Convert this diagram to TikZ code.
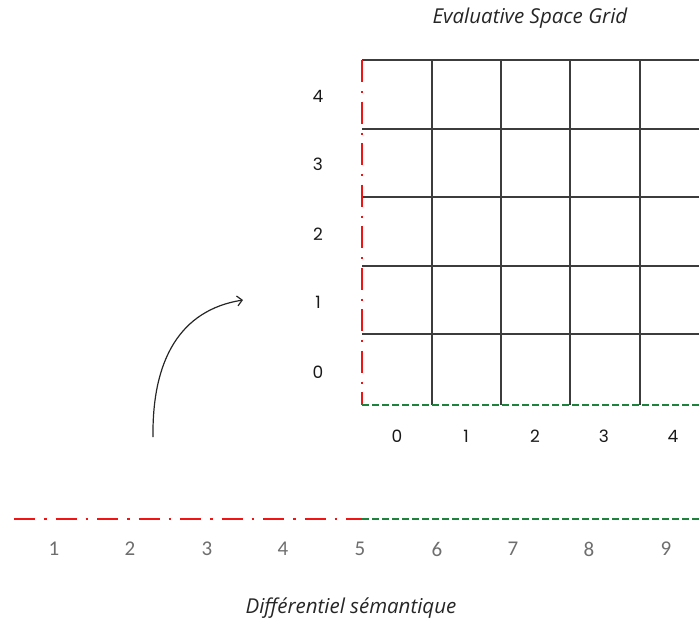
\documentclass[tikz,border=0pt]{standalone}
\usepackage{fontspec}
\usetikzlibrary{arrows.meta}
\setmainfont{Open Sans}
\newfontfamily\numfont{Poppins}
\newfontfamily\axfont{Carlito}
\definecolor{redl}{RGB}{240,20,20}
\definecolor{greenl}{RGB}{30,130,60}
\definecolor{gridc}{RGB}{60,60,60}
\definecolor{grayt}{RGB}{110,110,110}
\begin{document}
\begin{tikzpicture}[x=1pt,y=-1pt,
  gridline/.style={draw=gridc,line width=1.1pt},
  reddash/.style={draw=redl,line width=2pt,dash pattern=on 22pt off 9pt on 2pt off 8.5pt},
  reddashb/.style={draw=redl,line width=2.6pt,dash pattern=on 21pt off 9pt on 2.5pt off 9pt},
  greendash/.style={draw=greenl,line width=2pt,dash pattern=on 6.5pt off 3.5pt},
  gnum/.style={font=\numfont\fontsize{17}{20}\selectfont,text=black!90,inner sep=0pt},
  anum/.style={font=\axfont\fontsize{21}{24}\selectfont,text=grayt,inner sep=0pt},
  ttl/.style={font=\itshape\fontsize{20.5}{24}\selectfont,text=black!85,inner sep=0pt}]
\useasboundingbox (0,0) rectangle (699,625);
\begin{scope}
\clip (0,0) rectangle (699,625);
% horizontal grid lines
\foreach \y in {60,129,197,266,334}
  \draw[gridline] (362,\y) -- (710,\y);
% vertical grid lines
\foreach \x in {432,501,570,640}
  \draw[gridline] (\x,60) -- (\x,405);
% axes
\coordinate (O) at (362,405);
\coordinate (T) at (362,60);
\coordinate (R) at (710,405);
\draw[reddash] (T) -- (O);
\draw[greendash] (O) -- (R);
% bottom line
\coordinate (L0) at (14,519);
\coordinate (L5) at (362,519);
\coordinate (L9) at (710,519);
\draw[reddashb] (L0) -- (L5);
\draw[greendash] (L5) -- (L9);
\end{scope}
% grid labels
\foreach \v/\y in {4/96,3/164,2/234,1/302,0/372}
  \node[gnum] (y\v) at (318,\y) {\v};
\foreach \v/\x in {0/397,1/466,2/535,3/604,4/673}
  \node[gnum] (x\v) at (\x,436) {\v};
% bottom labels
\foreach \v/\x in {1/54,2/130,3/207,4/283,5/360,6/437,7/513,8/589,9/666}
  \node[anum] (b\v) at (\x,549) {\v};
% titles
\node[ttl] (title) at (530,18) {Evaluative Space Grid};
\node[ttl] (sub) at (351,608) {Différentiel sémantique};
% curved arrow
\coordinate (as) at (153,437);
\coordinate (ae) at (243,300);
\draw[line width=1.2pt,black!85,-{Straight Barb[length=5pt,width=10pt]}] (as) .. controls (152,360) and (180,310) .. (ae);
\end{tikzpicture}
\end{document}
